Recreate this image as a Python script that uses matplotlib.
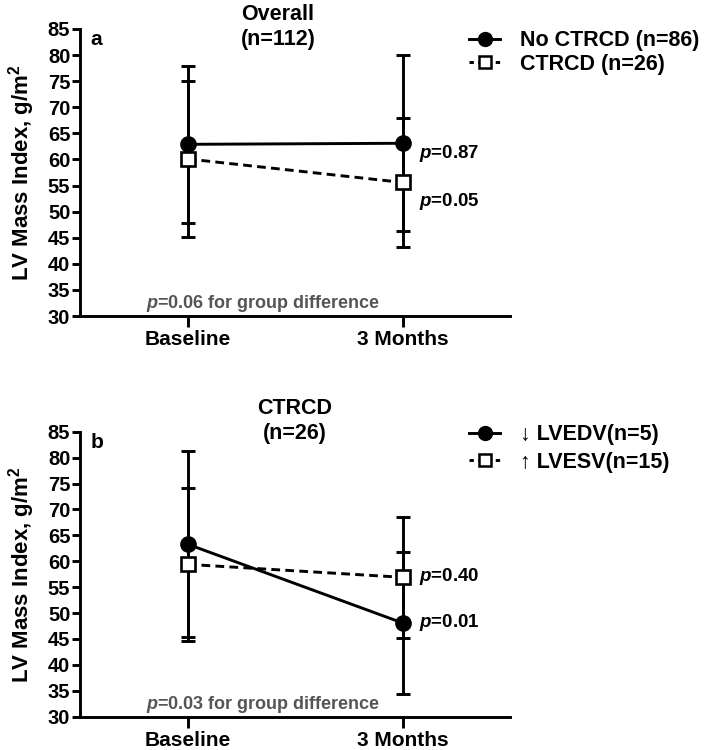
import matplotlib
matplotlib.use("Agg")
import matplotlib.pyplot as plt
from matplotlib.lines import Line2D

plt.rcParams['font.family'] = ['Liberation Sans', 'DejaVu Sans']
plt.rcParams['font.weight'] = 'bold'
plt.rcParams['mathtext.fontset'] = 'custom'
plt.rcParams['mathtext.rm'] = 'Liberation Sans:bold'
plt.rcParams['mathtext.it'] = 'Liberation Sans:bold:italic'
plt.rcParams['mathtext.bf'] = 'Liberation Sans:bold'

time_labels = ['Baseline', '3 Months']
y_ticks = [30, 35, 40, 45, 50, 55, 60, 65, 70, 75, 80, 85]

# Panel a
a_title = 'Overall\n(n=112)'
a_series = ['No CTRCD (n=86)', 'CTRCD (n=26)']
no_ctrcd_mean = [62.9, 63.1]
no_ctrcd_err = [15.0, 16.9]
ctrcd_mean = [60.1, 55.6]
ctrcd_err = [15.0, 12.4]
a_pvals = ['0.87', '0.05']        # No CTRCD, CTRCD
a_group_p = '0.06'

# Panel b
b_title = 'CTRCD\n(n=26)'
b_series = ['\u2193 LVEDV(n=5)', '\u2191 LVESV(n=15)']
lvedv_mean = [63.3, 48.1]
lvedv_err = [18.0, 13.7]
lvesv_mean = [59.4, 56.9]
lvesv_err = [14.7, 11.7]
b_pvals = ['0.01', '0.40']        # LVEDV, LVESV
b_group_p = '0.03'

W, H = 720, 750
fig = plt.figure(figsize=(7.2, 7.5), dpi=100)


def fx(px):
    return px / W


def fy(py):
    return 1 - py / H


LW = 2.1


def panel(rect, letter, title, title_xy, m1, e1, m2, e2, labels, pvals, pv_offsets,
          group_p, legend_y, legend_spacing):
    ax = fig.add_axes(rect)
    x = [0, 1]
    ax.errorbar(x, m1, yerr=e1, fmt='none', ecolor='black', elinewidth=LW,
                capsize=4.8, capthick=LW, zorder=2)
    ax.errorbar(x, m2, yerr=e2, fmt='none', ecolor='black', elinewidth=LW,
                capsize=4.8, capthick=LW, zorder=2)
    ax.plot(x, m1, '-', color='black', lw=LW, marker='o', ms=11,
            mfc='black', mec='black', zorder=4)
    ax.plot(x, m2, '--', color='black', lw=LW, marker='s', ms=10.5,
            mfc='white', mec='black', mew=1.9, dashes=(3, 1.8), zorder=3)
    ax.set_xlim(-0.5, 1.5)
    ax.set_ylim(30, 85)
    ax.set_yticks(y_ticks)
    ax.set_xticks(x)
    ax.set_xticklabels(time_labels, fontsize=15, fontweight='bold')
    ax.tick_params(axis='y', labelsize=14.5, width=LW, length=6, direction='out', pad=1)
    ax.tick_params(axis='x', width=LW, length=8, direction='out', pad=2)
    for lab in ax.get_yticklabels():
        lab.set_fontweight('bold')
    for s in ['top', 'right']:
        ax.spines[s].set_visible(False)
    for s in ['left', 'bottom']:
        ax.spines[s].set_linewidth(LW)
    ax.set_ylabel('LV Mass Index, g/m$^\\mathbf{2}$', fontsize=16,
                  fontweight='bold', labelpad=8)
    ax.text(0.025, 0.962, letter, transform=ax.transAxes, fontsize=15,
            fontweight='bold', va='center', ha='left')
    fig.text(fx(title_xy[0]), fy(title_xy[1]), title, fontsize=15.5,
             fontweight='bold', ha='center', va='center', linespacing=1.25)
    # p values at 3 months
    for mval, pv, off in zip([m1[1], m2[1]], pvals, pv_offsets):
        ax.text(1.075, mval + off, '$\\it{p}$=' + pv, fontsize=13.5,
                fontweight='bold', va='center', ha='left')
    ax.text(-0.195, 31.5, '$\\it{p}$=' + group_p + ' for group difference',
            fontsize=13, color='#555555', fontweight='bold', va='baseline',
            ha='left')
    handles = [
        Line2D([0], [0], color='black', lw=LW, marker='o', ms=10, mfc='black'),
        Line2D([0], [0], color='black', lw=LW, ls='--', dashes=(1.5, 1.5), marker='s',
               ms=9, mfc='white', mec='black', mew=1.8),
    ]
    fig.legend(handles, labels, loc='center left',
               bbox_to_anchor=(fx(469), fy(legend_y)), frameon=False,
               prop={'weight': 'bold', 'size': 15.5},
               handlelength=1.45, handletextpad=0.9, labelspacing=legend_spacing,
               borderpad=0, borderaxespad=0)
    return ax


axa = panel([fx(80), fy(316), fx(510 - 80), (316 - 29) / H], 'a', a_title, (278, 26.5),
            no_ctrcd_mean, no_ctrcd_err, ctrcd_mean, ctrcd_err,
            a_series, a_pvals, [-1.9, -3.7], a_group_p, 52.5, 0.12)
axb = panel([fx(80), fy(716.7), fx(510 - 80), (716.7 - 431.7) / H], 'b', b_title,
            (295, 421), lvedv_mean, lvedv_err, lvesv_mean, lvesv_err,
            b_series, b_pvals, [0.0, 0.2], b_group_p, 448.5, 0.3)

fig.savefig('out.png', dpi=100)
